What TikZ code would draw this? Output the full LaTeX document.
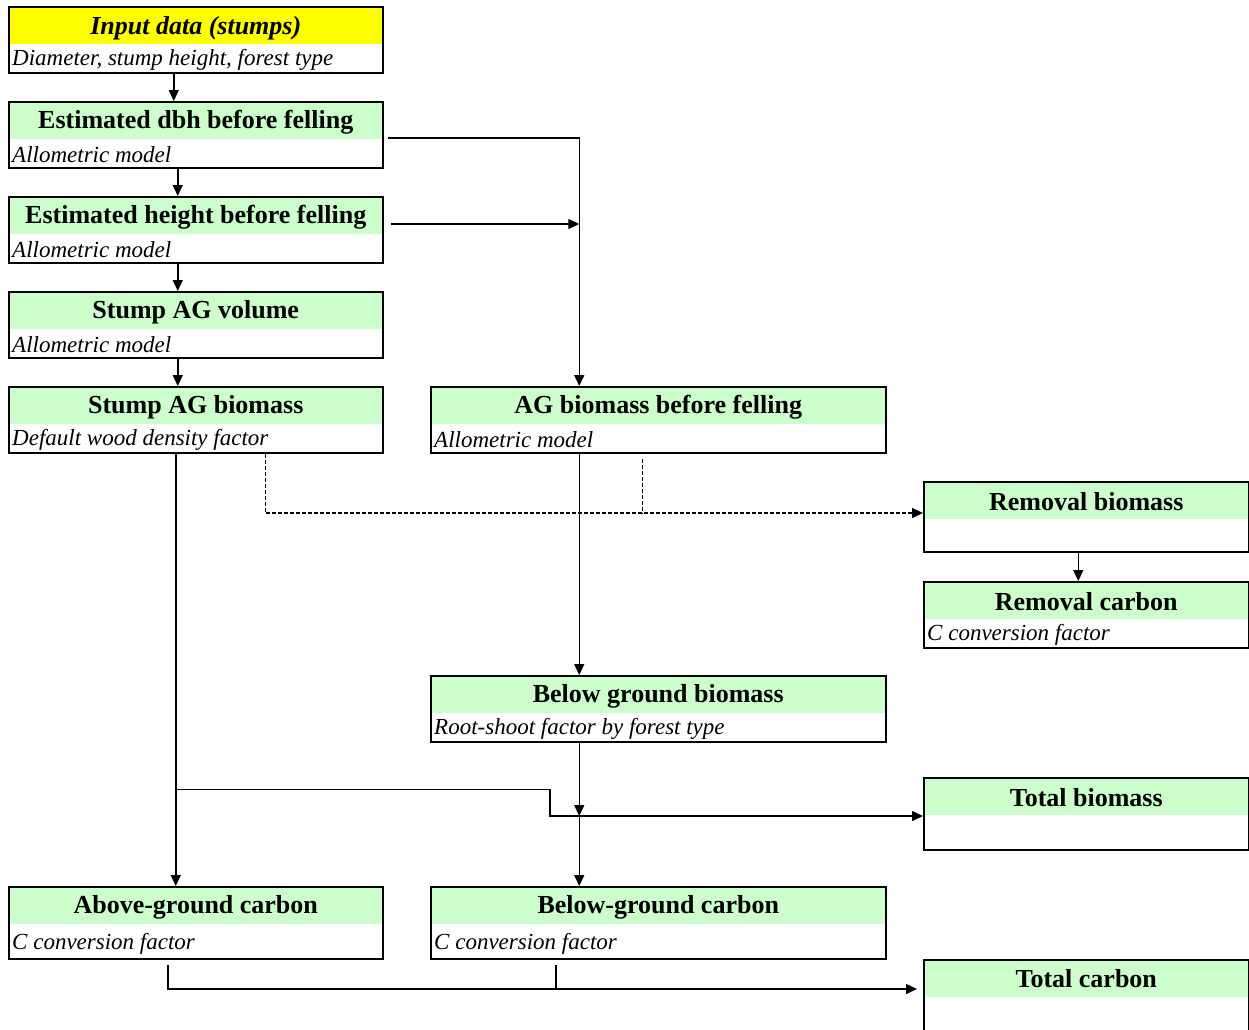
\documentclass[tikz,border=0pt]{standalone}
\usepackage{fontspec}
\setmainfont{Liberation Serif}
\usetikzlibrary{arrows.meta,calc}
\definecolor{BandGreen}{RGB}{204,255,204}
\definecolor{BandYellow}{RGB}{255,255,0}
\tikzset{
  card/.style={
    draw,
    line width=1.5pt,
    fill=white,
    anchor=north west,
    inner sep=0pt
  },
  band/.style={
    path picture={\fill[#1] (path picture bounding box.north west)
      rectangle ([yshift=-37pt]path picture bounding box.north east);}
  },
  head/.style={
    font=\fontsize{26}{28}\selectfont\bfseries,
    inner sep=0pt
  },
  sub/.style={
    font=\fontsize{23}{25}\selectfont\itshape,
    anchor=west,
    inner sep=0pt
  },
  arrow/.style={-{Triangle[length=11pt,width=10pt]},line width=1.5pt},
  link/.style={line width=1.5pt},
  dasharrow/.style={arrow,line width=1.1pt,dash pattern=on 4pt off 2pt}
}

\begin{document}
\begin{tikzpicture}[x=1pt,y=-1pt]

\useasboundingbox (0,0) rectangle (1249,1029);
\clip (0,0) rectangle (1249,1029);

% left column
\node[card,band=BandYellow,minimum width=374pt,minimum height=66pt] (input) at (8,6) {};
\node[head] at ([yshift=-22pt]input.north) {\itshape Input data (stumps)};
\node[sub] at ([xshift=4pt,yshift=14pt]input.south west) {Diameter, stump height, forest type};

\node[card,band=BandGreen,minimum width=374pt,minimum height=66pt] (dbh) at (8,101) {};
\node[head] at ([yshift=-21pt]dbh.north) {Estimated dbh before felling};
\node[sub] at ([xshift=4pt,yshift=14pt]dbh.south west) {Allometric model};

\node[card,band=BandGreen,minimum width=374pt,minimum height=66pt] (height) at (8,196) {};
\node[head] at ([yshift=-21pt]height.north) {Estimated height before felling};
\node[sub] at ([xshift=4pt,yshift=14pt]height.south west) {Allometric model};

\node[card,band=BandGreen,minimum width=374pt,minimum height=66pt] (vol) at (8,291) {};
\node[head] at ([yshift=-21pt]vol.north) {Stump AG volume};
\node[sub] at ([xshift=4pt,yshift=14pt]vol.south west) {Allometric model};

\node[card,band=BandGreen,minimum width=374pt,minimum height=66pt] (stumpbio) at (8,386) {};
\node[head] at ([yshift=-21pt]stumpbio.north) {Stump AG biomass};
\node[sub] at ([xshift=4pt,yshift=14pt]stumpbio.south west) {Default wood density factor};

\node[card,band=BandGreen,minimum width=374pt,minimum height=72pt] (agc) at (8,886) {};
\node[head] at ([yshift=-21pt]agc.north) {Above-ground carbon};
\node[sub] at ([xshift=4pt,yshift=16pt]agc.south west) {C conversion factor};

% middle column
\node[card,band=BandGreen,minimum width=455pt,minimum height=66pt] (agb) at (430,386) {};
\node[head] at ([yshift=-21pt]agb.north) {AG biomass before felling};
\node[sub] at ([xshift=4pt,yshift=14pt]agb.south west) {Allometric model};

\node[card,band=BandGreen,minimum width=455pt,minimum height=66pt] (bgb) at (430,675) {};
\node[head] at ([yshift=-21pt]bgb.north) {Below ground biomass};
\node[sub] at ([xshift=4pt,yshift=14pt]bgb.south west) {Root-shoot factor by forest type};

\node[card,band=BandGreen,minimum width=455pt,minimum height=72pt] (bgc) at (430,886) {};
\node[head] at ([yshift=-21pt]bgc.north) {Below-ground carbon};
\node[sub] at ([xshift=4pt,yshift=16pt]bgc.south west) {C conversion factor};

% right column
\node[card,band=BandGreen,minimum width=325pt,minimum height=70pt] (removal) at (923,481) {};
\node[head] at ([yshift=-21pt]removal.north) {Removal biomass};

\node[card,band=BandGreen,minimum width=325pt,minimum height=66pt] (remcarb) at (923,581) {};
\node[head] at ([yshift=-21pt]remcarb.north) {Removal carbon};
\node[sub] at ([xshift=4pt,yshift=14pt]remcarb.south west) {C conversion factor};

\node[card,band=BandGreen,minimum width=325pt,minimum height=72pt] (totbio) at (923,777) {};
\node[head] at ([yshift=-21pt]totbio.north) {Total biomass};

\node[card,band=BandGreen,minimum width=325pt,minimum height=100pt] (totcarb) at (923,959) {};
\node[head] at ([yshift=-20pt]totcarb.north) {Total carbon};

% helper points
\coordinate (agbin) at ([xshift=-79pt]agb.north);
\coordinate (hgtout) at ([xshift=7pt,yshift=-28pt]height.north east);
\coordinate (stumpdown) at ([xshift=-20pt]stumpbio.south);
\coordinate (fork) at ([xshift=-20pt,yshift=-336pt]stumpbio.south);
\coordinate (stumpout) at ([xshift=70pt]stumpbio.south);
\coordinate (agbtap) at ([xshift=-15.5pt,yshift=-5pt]agb.south);
\coordinate (remin) at ([yshift=-32pt]removal.north west);
\coordinate (totbioin) at ([yshift=-39pt]totbio.north west);
\coordinate (bgbdown) at (bgb.south -| agbin);
\coordinate (meet) at (bgbdown |- totbioin);
\coordinate (agcout) at ([xshift=-28pt,yshift=-5pt]agc.south);
\coordinate (bgcout) at ([xshift=-102.5pt,yshift=-5pt]bgc.south);
\coordinate (totcarbin) at ([xshift=-6pt,yshift=-30pt]totcarb.north west);

% connectors
\draw[arrow] ([xshift=-22pt]input.south) -- ([xshift=-22pt]dbh.north);
\draw[arrow] ([xshift=-18pt]dbh.south) -- ([xshift=-18pt]height.north);
\draw[arrow] ([xshift=-18pt]height.south) -- ([xshift=-18pt]vol.north);
\draw[arrow] ([xshift=-18pt]vol.south) -- ([xshift=-18pt]stumpbio.north);

\draw[arrow] ([xshift=4pt,yshift=-37pt]dbh.north east) -| (agbin);
\draw[arrow] (hgtout) -- (hgtout -| agbin);
\draw[arrow] (agb.south -| agbin) -- (bgb.north -| agbin);

\draw[dasharrow] (stumpout) |- (remin);
\draw[link,line width=1.1pt,dash pattern=on 4pt off 2pt] (agbtap) -- (agbtap |- remin);
\draw[arrow] ([xshift=-8pt]removal.south) -- ([xshift=-8pt]remcarb.north);

\draw[arrow] (stumpdown) -- (stumpdown |- agc.north);
\draw[arrow] (fork) -- ++(374,0) |- (totbioin);
\draw[arrow] (bgbdown) -- (meet);
\draw[arrow] (meet) -- (bgc.north -| meet);

\draw[arrow] (agcout) |- (totcarbin);
\draw[link] (bgcout) -- (bgcout |- totcarbin);

\end{tikzpicture}
\end{document}
